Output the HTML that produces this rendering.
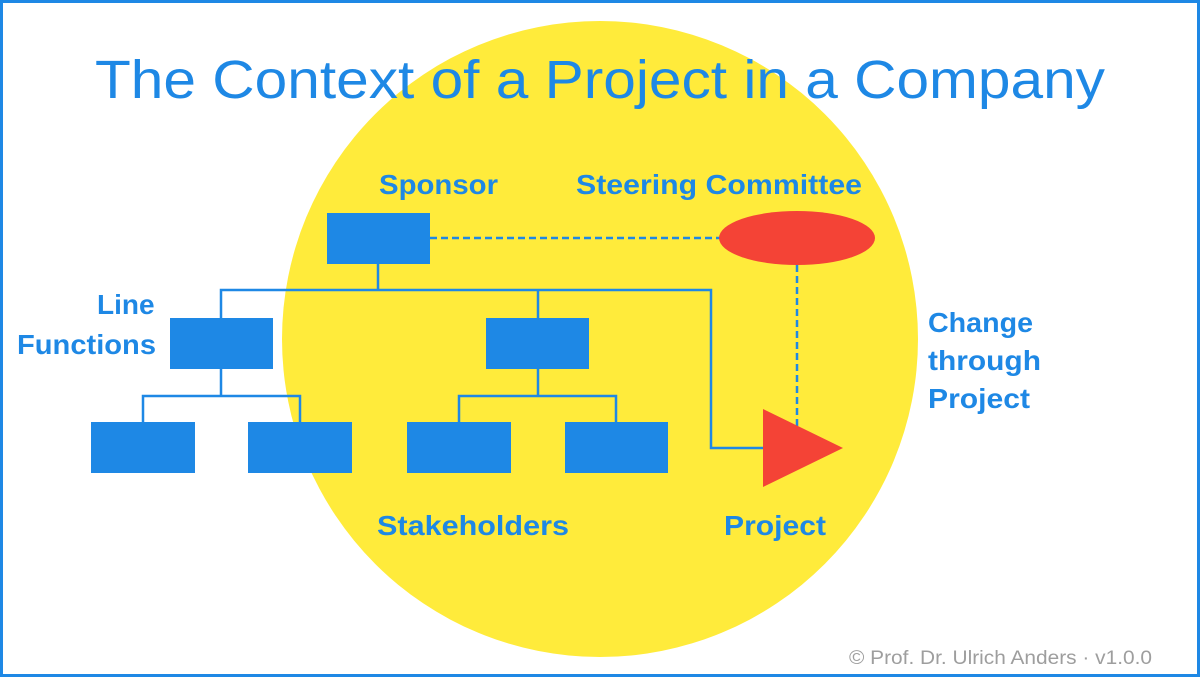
<!DOCTYPE html>
<html><head><meta charset="utf-8"><style>html,body{margin:0;padding:0;background:#fff}svg{display:block}</style></head>
<body>
<svg width="1200" height="677" viewBox="0 0 1200 677" xmlns="http://www.w3.org/2000/svg" font-family="Liberation Sans, sans-serif">
<rect x="1.5" y="1.5" width="1197" height="674" fill="#fff" stroke="#1e88e5" stroke-width="3"/>
<circle cx="600" cy="339" r="318" fill="#ffeb3b"/>
<text x="600" y="98" font-size="54" fill="#1e88e5" text-anchor="middle" textLength="1010" lengthAdjust="spacingAndGlyphs">The Context of a Project in a Company</text>
<g fill="none" stroke="#1e88e5" stroke-width="2.5">
<path d="M378 264V290M221 318V290H711V448H765M538 290V318"/>
<path d="M221 369V396M143 422V396H300V422M538 369V396M459 422V396H616V422"/>
<path d="M430 238H720M797 265V428" stroke-dasharray="7 4"/>
</g>
<g fill="#1e88e5">
<rect x="327" y="213" width="103" height="51"/>
<rect x="170" y="318" width="103" height="51"/>
<rect x="486" y="318" width="103" height="51"/>
<rect x="91" y="422" width="104" height="51"/>
<rect x="248" y="422" width="104" height="51"/>
<rect x="407" y="422" width="104" height="51"/>
<rect x="565" y="422" width="103" height="51"/>
</g>
<ellipse cx="797" cy="238" rx="78" ry="27" fill="#f44336"/>
<polygon points="763,409 843,448 763,487" fill="#f44336"/>
<g fill="#1e88e5" font-weight="bold" font-size="28">
<text x="379" y="194" textLength="119" lengthAdjust="spacingAndGlyphs">Sponsor</text>
<text x="576" y="194" textLength="286" lengthAdjust="spacingAndGlyphs">Steering Committee</text>
<text x="97" y="314">Line</text>
<text x="17" y="354" textLength="139" lengthAdjust="spacingAndGlyphs">Functions</text>
<text x="928" y="332" textLength="105" lengthAdjust="spacingAndGlyphs">Change</text>
<text x="928" y="370" textLength="113" lengthAdjust="spacingAndGlyphs">through</text>
<text x="928" y="408" textLength="102" lengthAdjust="spacingAndGlyphs">Project</text>
<text x="377" y="535" textLength="192" lengthAdjust="spacingAndGlyphs">Stakeholders</text>
<text x="724" y="535" textLength="102" lengthAdjust="spacingAndGlyphs">Project</text>
</g>
<text x="849" y="664" font-size="19" fill="#9e9e9e" textLength="303" lengthAdjust="spacingAndGlyphs">© Prof. Dr. Ulrich Anders · v1.0.0</text>
</svg>
</body></html>
